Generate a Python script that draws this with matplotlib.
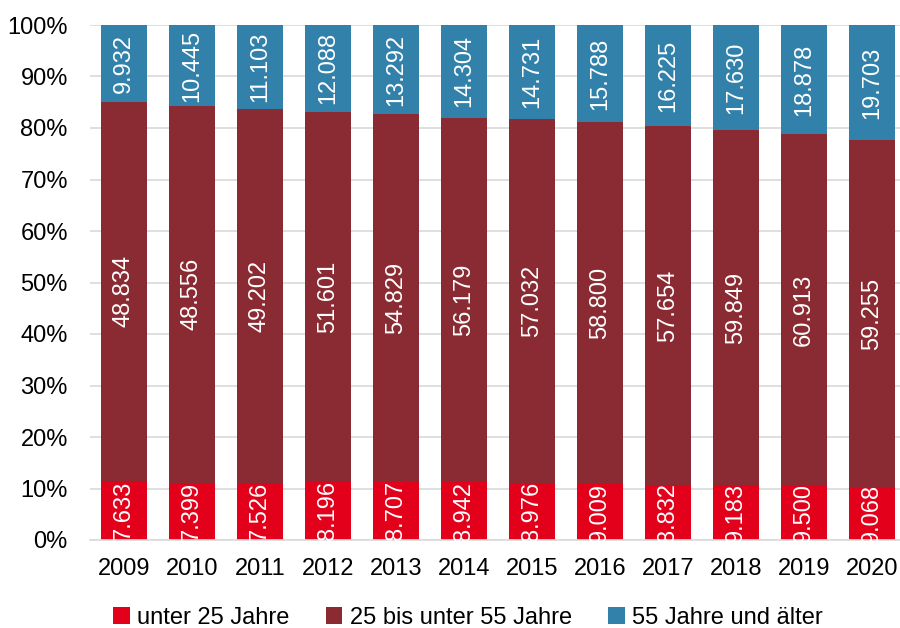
import matplotlib.pyplot as plt
import numpy as np
from matplotlib.ticker import PercentFormatter

plt.rcParams['font.family'] = ['Liberation Sans', 'DejaVu Sans']

years = ['2009', '2010', '2011', '2012', '2013', '2014', '2015', '2016', '2017', '2018', '2019', '2020']
unter_25 = [7633, 7399, 7526, 8196, 8707, 8942, 8976, 9009, 8832, 9183, 9500, 9068]
mitte = [48834, 48556, 49202, 51601, 54829, 56179, 57032, 58800, 57654, 59849, 60913, 59255]
ab_55 = [9932, 10445, 11103, 12088, 13292, 14304, 14731, 15788, 16225, 17630, 18878, 19703]
series_names = ['unter 25 Jahre', '25 bis unter 55 Jahre', '55 Jahre und älter']
colors = ['#E2001A', '#8A2A33', '#3181AA']


def fmt(v):
    return f"{v:,}".replace(',', '.')


series = np.array([unter_25, mitte, ab_55], dtype=float)
totals = series.sum(axis=0)
shares = series / totals * 100

fig = plt.figure(figsize=(9, 6.28), dpi=100)
ax = fig.add_axes([90 / 900, 88 / 628, 816 / 900, 515 / 628])

x = np.arange(len(years))
bottom = np.zeros(len(years))
for vals, share, name, col in zip(series, shares, series_names, colors):
    ax.bar(x, share, bottom=bottom, width=0.68, color=col, label=name, zorder=2)
    for xi, b, s, v in zip(x, bottom, share, vals):
        ax.text(xi, b + s / 2, fmt(int(v)), rotation=90, ha='center', va='center',
                color='white', fontsize=17, zorder=3)
    bottom += share

ax.set_xlim(-0.5, len(years) - 0.5)
ax.set_ylim(0, 100)
ax.set_yticks(np.arange(0, 101, 10))
ax.yaxis.set_major_formatter(PercentFormatter(decimals=0))
ax.set_xticks(x)
ax.set_xticklabels(years)
ax.tick_params(axis='both', length=0, labelsize=17, colors='black')
ax.tick_params(axis='x', pad=13)
ax.tick_params(axis='y', pad=16)
ax.grid(axis='y', color='#D9D9D9', linewidth=1.2, zorder=0)
for sp in ['left', 'right', 'top']:
    ax.spines[sp].set_visible(False)
ax.spines['bottom'].set_color('#D9D9D9')
ax.spines['bottom'].set_linewidth(1.2)

fig.legend(loc='center', bbox_to_anchor=(0.52, 0.016), ncol=3, frameon=False,
           fontsize=17, handlelength=0.7, handleheight=0.7, handletextpad=0.3,
           columnspacing=1.55)

fig.savefig('out.png', dpi=100)
